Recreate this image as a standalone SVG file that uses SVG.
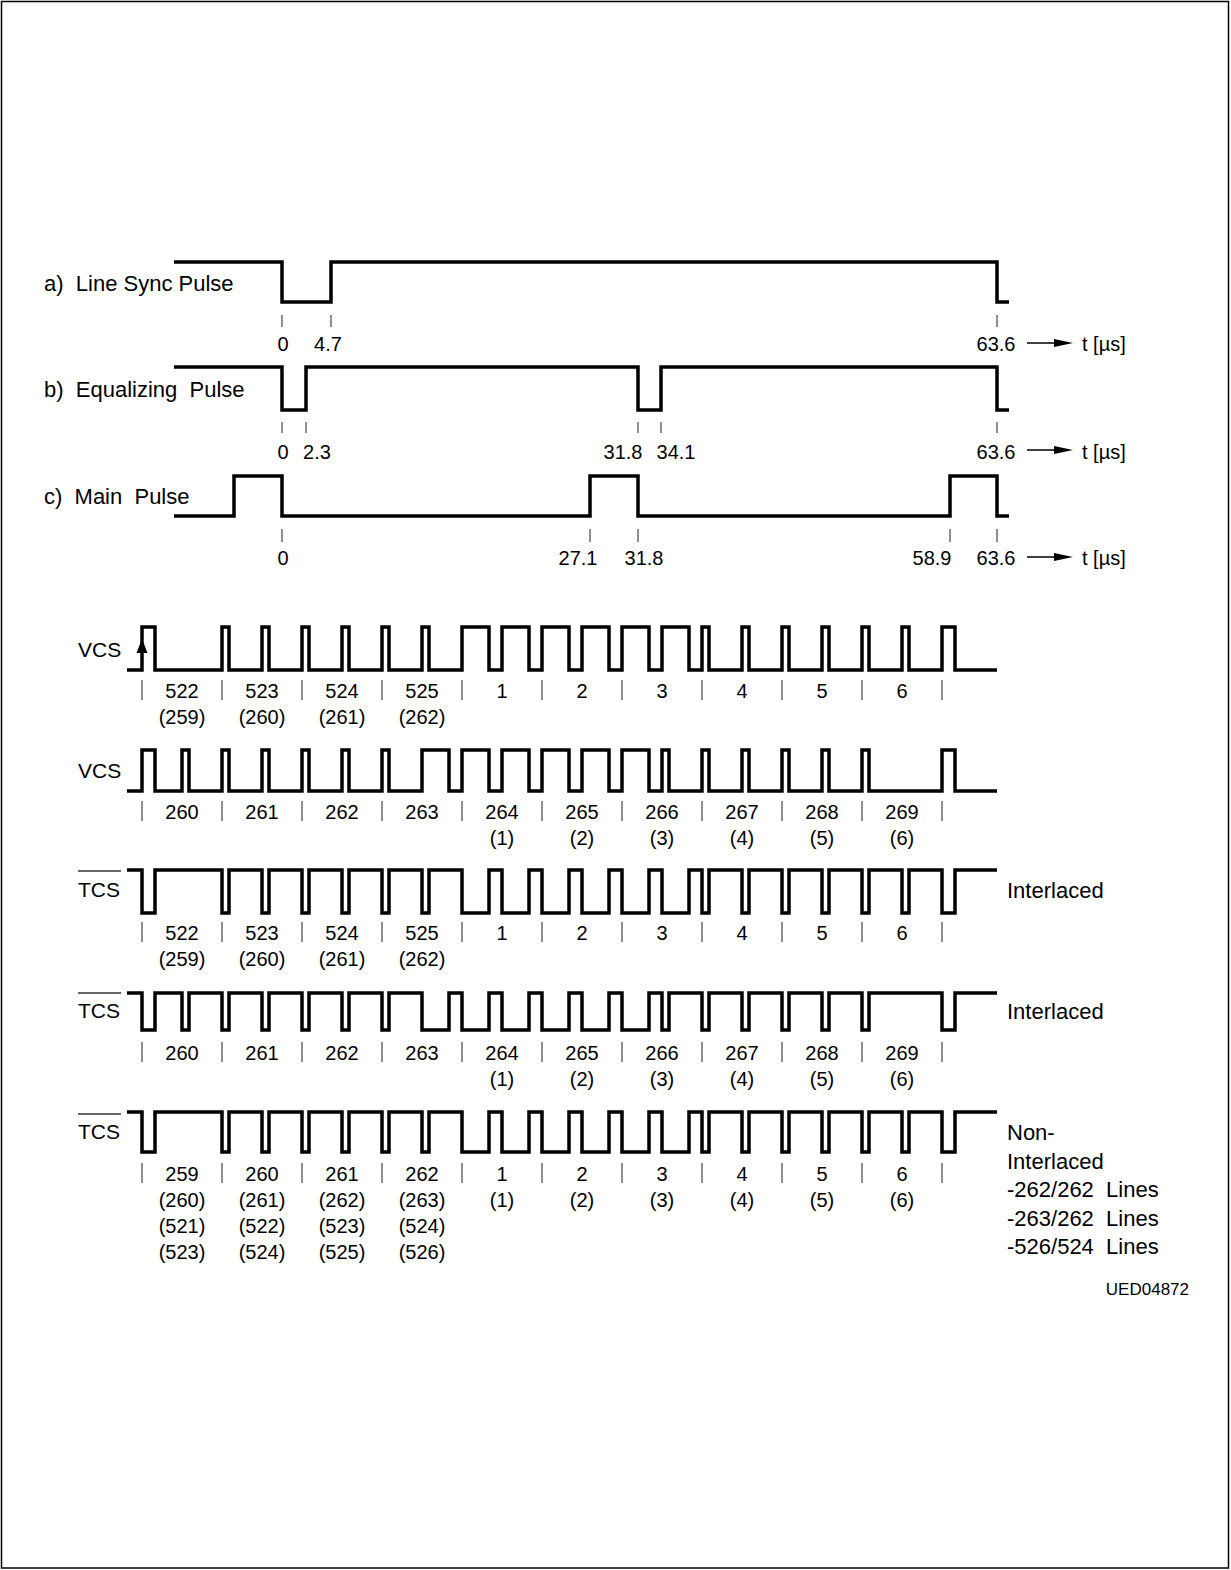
<svg xmlns="http://www.w3.org/2000/svg" width="1231" height="1570" viewBox="0 0 1231 1570">
<style>
.w{fill:none;stroke:#000;stroke-width:3.5;stroke-linejoin:miter;stroke-linecap:butt}
.tk{stroke:#555;stroke-width:1.3}
.ol{stroke:#333;stroke-width:1.5}
text{font-family:"Liberation Sans",Arial,Helvetica,sans-serif;fill:#000}
.lb{font-size:22px;white-space:pre}
.sg{font-size:21px}
.n{font-size:20px;text-anchor:middle}
.u{font-size:20px}
.ar{stroke:#000;stroke-width:1.5}
</style>
<rect x="1.5" y="1.5" width="1227" height="1566.5" fill="#fff" stroke="#000" stroke-width="1.5"/>

<g id="wave-a">
<text class="lb" x="44" y="291">a)  Line Sync Pulse</text>
<path class="w" d="M174,262 H282 V302 H331 V262 H997 V302 H1009"/>
<path class="tk" d="M282,315 V327 M331,315 V327 M997,315 V327"/>
<text class="n" x="283" y="351">0</text>
<text class="n" x="328" y="351">4.7</text>
<text class="n" x="996" y="351">63.6</text>
<text class="u" x="1082" y="351">t [µs]</text>
</g>

<g id="wave-b">
<text class="lb" x="44" y="397">b)  Equalizing  Pulse</text>
<path class="w" d="M174,367 H282 V410 H306 V367 H638 V410 H661 V367 H997 V410 H1009"/>
<path class="tk" d="M282,422 V433 M306,422 V433 M638,422 V433 M661,422 V433 M997,422 V433"/>
<text class="n" x="283" y="459">0</text>
<text class="n" x="317" y="459">2.3</text>
<text class="n" x="623" y="459">31.8</text>
<text class="n" x="676" y="459">34.1</text>
<text class="n" x="996" y="459">63.6</text>
<text class="u" x="1082" y="459">t [µs]</text>
</g>

<g id="wave-c">
<text class="lb" x="44" y="504">c)  Main  Pulse</text>
<path class="w" d="M174,516 H234 V476 H282 V516 H590 V476 H638 V516 H950 V476 H997 V516 H1009"/>
<path class="tk" d="M282,529 V542 M590,529 V542 M638,529 V542 M950,529 V542 M997,529 V542"/>
<text class="n" x="283" y="565">0</text>
<text class="n" x="578" y="565">27.1</text>
<text class="n" x="644" y="565">31.8</text>
<text class="n" x="932" y="565">58.9</text>
<text class="n" x="996" y="565">63.6</text>
<text class="u" x="1082" y="565">t [µs]</text>
</g>

<g id="connectors">
<line class="ar" x1="1027" y1="343" x2="1058" y2="343"/>
<polygon points="1054,339 1073,343 1054,347"/>
<line class="ar" x1="1027" y1="450" x2="1058" y2="450"/>
<polygon points="1054,446 1073,450 1054,454"/>
<line class="ar" x1="1027" y1="557" x2="1058" y2="557"/>
<polygon points="1054,553 1073,557 1054,561"/>
<polygon points="136.5,653 142,639 147.5,653"/>
</g>

<g id="vcs1">
<text class="sg" x="78" y="657">VCS</text>
<path class="w" d="M127,670 H142 V627 H155 V670 H222 V627 H229 V670 H262 V627 H269 V670 H302 V627 H309 V670 H342 V627 H349 V670 H382 V627 H389 V670 H422 V627 H429 V670 H462 V627 H489 V670 H502 V627 H529 V670 H542 V627 H569 V670 H582 V627 H609 V670 H622 V627 H649 V670 H662 V627 H689 V670 H702 V627 H709 V670 H742 V627 H749 V670 H782 V627 H789 V670 H822 V627 H829 V670 H862 V627 H869 V670 H902 V627 H909 V670 H942 V627 H955 V670 H997"/>
<path class="tk" d="M142,680 V700 M222,680 V700 M302,680 V700 M382,680 V700 M462,680 V700 M542,680 V700 M622,680 V700 M702,680 V700 M782,680 V700 M862,680 V700 M942,680 V700"/>
<text class="n" x="182" y="698">522</text><text class="n" x="262" y="698">523</text><text class="n" x="342" y="698">524</text><text class="n" x="422" y="698">525</text><text class="n" x="502" y="698">1</text><text class="n" x="582" y="698">2</text><text class="n" x="662" y="698">3</text><text class="n" x="742" y="698">4</text><text class="n" x="822" y="698">5</text><text class="n" x="902" y="698">6</text>
<text class="n" x="182" y="724">(259)</text><text class="n" x="262" y="724">(260)</text><text class="n" x="342" y="724">(261)</text><text class="n" x="422" y="724">(262)</text>
</g>

<g id="vcs2">
<text class="sg" x="78" y="778">VCS</text>
<path class="w" d="M127,791 H142 V750 H155 V791 H182 V750 H189 V791 H222 V750 H229 V791 H262 V750 H269 V791 H302 V750 H309 V791 H342 V750 H349 V791 H382 V750 H389 V791 H422 V750 H449 V791 H462 V750 H489 V791 H502 V750 H529 V791 H542 V750 H569 V791 H582 V750 H609 V791 H622 V750 H649 V791 H662 V750 H669 V791 H702 V750 H709 V791 H742 V750 H749 V791 H782 V750 H789 V791 H822 V750 H829 V791 H862 V750 H869 V791 H942 V750 H955 V791 H997"/>
<path class="tk" d="M142,801 V821 M222,801 V821 M302,801 V821 M382,801 V821 M462,801 V821 M542,801 V821 M622,801 V821 M702,801 V821 M782,801 V821 M862,801 V821 M942,801 V821"/>
<text class="n" x="182" y="819">260</text><text class="n" x="262" y="819">261</text><text class="n" x="342" y="819">262</text><text class="n" x="422" y="819">263</text><text class="n" x="502" y="819">264</text><text class="n" x="582" y="819">265</text><text class="n" x="662" y="819">266</text><text class="n" x="742" y="819">267</text><text class="n" x="822" y="819">268</text><text class="n" x="902" y="819">269</text>
<text class="n" x="502" y="845">(1)</text><text class="n" x="582" y="845">(2)</text><text class="n" x="662" y="845">(3)</text><text class="n" x="742" y="845">(4)</text><text class="n" x="822" y="845">(5)</text><text class="n" x="902" y="845">(6)</text>
</g>

<g id="tcs1">
<text class="sg" x="78" y="897">TCS</text>
<line class="ol" x1="78" y1="871" x2="121" y2="871"/>
<path class="w" d="M127,870 H142 V913 H155 V870 H222 V913 H229 V870 H262 V913 H269 V870 H302 V913 H309 V870 H342 V913 H349 V870 H382 V913 H389 V870 H422 V913 H429 V870 H462 V913 H489 V870 H502 V913 H529 V870 H542 V913 H569 V870 H582 V913 H609 V870 H622 V913 H649 V870 H662 V913 H689 V870 H702 V913 H709 V870 H742 V913 H749 V870 H782 V913 H789 V870 H822 V913 H829 V870 H862 V913 H869 V870 H902 V913 H909 V870 H942 V913 H955 V870 H997"/>
<path class="tk" d="M142,922 V942 M222,922 V942 M302,922 V942 M382,922 V942 M462,922 V942 M542,922 V942 M622,922 V942 M702,922 V942 M782,922 V942 M862,922 V942 M942,922 V942"/>
<text class="n" x="182" y="940">522</text><text class="n" x="262" y="940">523</text><text class="n" x="342" y="940">524</text><text class="n" x="422" y="940">525</text><text class="n" x="502" y="940">1</text><text class="n" x="582" y="940">2</text><text class="n" x="662" y="940">3</text><text class="n" x="742" y="940">4</text><text class="n" x="822" y="940">5</text><text class="n" x="902" y="940">6</text>
<text class="n" x="182" y="966">(259)</text><text class="n" x="262" y="966">(260)</text><text class="n" x="342" y="966">(261)</text><text class="n" x="422" y="966">(262)</text>
<text class="lb" x="1007" y="898">Interlaced</text>
</g>

<g id="tcs2">
<text class="sg" x="78" y="1018">TCS</text>
<line class="ol" x1="78" y1="993" x2="121" y2="993"/>
<path class="w" d="M127,993 H142 V1030 H155 V993 H182 V1030 H189 V993 H222 V1030 H229 V993 H262 V1030 H269 V993 H302 V1030 H309 V993 H342 V1030 H349 V993 H382 V1030 H389 V993 H422 V1030 H449 V993 H462 V1030 H489 V993 H502 V1030 H529 V993 H542 V1030 H569 V993 H582 V1030 H609 V993 H622 V1030 H649 V993 H662 V1030 H669 V993 H702 V1030 H709 V993 H742 V1030 H749 V993 H782 V1030 H789 V993 H822 V1030 H829 V993 H862 V1030 H869 V993 H942 V1030 H955 V993 H997"/>
<path class="tk" d="M142,1042 V1062 M222,1042 V1062 M302,1042 V1062 M382,1042 V1062 M462,1042 V1062 M542,1042 V1062 M622,1042 V1062 M702,1042 V1062 M782,1042 V1062 M862,1042 V1062 M942,1042 V1062"/>
<text class="n" x="182" y="1060">260</text><text class="n" x="262" y="1060">261</text><text class="n" x="342" y="1060">262</text><text class="n" x="422" y="1060">263</text><text class="n" x="502" y="1060">264</text><text class="n" x="582" y="1060">265</text><text class="n" x="662" y="1060">266</text><text class="n" x="742" y="1060">267</text><text class="n" x="822" y="1060">268</text><text class="n" x="902" y="1060">269</text>
<text class="n" x="502" y="1086">(1)</text><text class="n" x="582" y="1086">(2)</text><text class="n" x="662" y="1086">(3)</text><text class="n" x="742" y="1086">(4)</text><text class="n" x="822" y="1086">(5)</text><text class="n" x="902" y="1086">(6)</text>
<text class="lb" x="1007" y="1019">Interlaced</text>
</g>

<g id="tcs3">
<text class="sg" x="78" y="1139">TCS</text>
<line class="ol" x1="78" y1="1114" x2="121" y2="1114"/>
<path class="w" d="M127,1112 H142 V1152 H155 V1112 H222 V1152 H229 V1112 H262 V1152 H269 V1112 H302 V1152 H309 V1112 H342 V1152 H349 V1112 H382 V1152 H389 V1112 H422 V1152 H429 V1112 H462 V1152 H489 V1112 H502 V1152 H529 V1112 H542 V1152 H569 V1112 H582 V1152 H609 V1112 H622 V1152 H649 V1112 H662 V1152 H689 V1112 H702 V1152 H709 V1112 H742 V1152 H749 V1112 H782 V1152 H789 V1112 H822 V1152 H829 V1112 H862 V1152 H869 V1112 H902 V1152 H909 V1112 H942 V1152 H955 V1112 H997"/>
<path class="tk" d="M142,1163 V1183 M222,1163 V1183 M302,1163 V1183 M382,1163 V1183 M462,1163 V1183 M542,1163 V1183 M622,1163 V1183 M702,1163 V1183 M782,1163 V1183 M862,1163 V1183 M942,1163 V1183"/>
<text class="n" x="182" y="1181">259</text><text class="n" x="262" y="1181">260</text><text class="n" x="342" y="1181">261</text><text class="n" x="422" y="1181">262</text><text class="n" x="502" y="1181">1</text><text class="n" x="582" y="1181">2</text><text class="n" x="662" y="1181">3</text><text class="n" x="742" y="1181">4</text><text class="n" x="822" y="1181">5</text><text class="n" x="902" y="1181">6</text>
<text class="n" x="182" y="1207">(260)</text><text class="n" x="262" y="1207">(261)</text><text class="n" x="342" y="1207">(262)</text><text class="n" x="422" y="1207">(263)</text><text class="n" x="502" y="1207">(1)</text><text class="n" x="582" y="1207">(2)</text><text class="n" x="662" y="1207">(3)</text><text class="n" x="742" y="1207">(4)</text><text class="n" x="822" y="1207">(5)</text><text class="n" x="902" y="1207">(6)</text>
<text class="n" x="182" y="1233">(521)</text><text class="n" x="262" y="1233">(522)</text><text class="n" x="342" y="1233">(523)</text><text class="n" x="422" y="1233">(524)</text>
<text class="n" x="182" y="1259">(523)</text><text class="n" x="262" y="1259">(524)</text><text class="n" x="342" y="1259">(525)</text><text class="n" x="422" y="1259">(526)</text>
<text class="lb" x="1007" y="1140">Non-</text>
<text class="lb" x="1007" y="1169">Interlaced</text>
<text class="lb" x="1007" y="1197">-262/262  Lines</text>
<text class="lb" x="1007" y="1226">-263/262  Lines</text>
<text class="lb" x="1007" y="1254">-526/524  Lines</text>
</g>

<text id="code" x="1189" y="1295" style="font-size:17px;text-anchor:end">UED04872</text>
</svg>
